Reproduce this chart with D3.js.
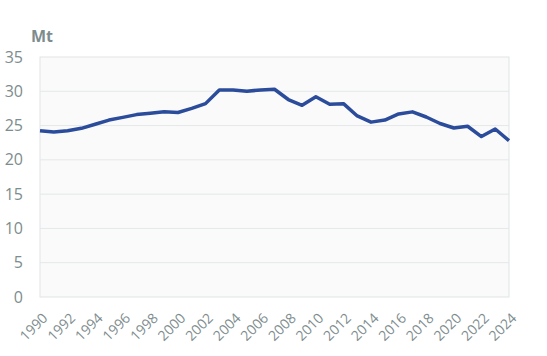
<!DOCTYPE html>
<html><head><meta charset="utf-8">
<script src="https://cdn.jsdelivr.net/npm/d3@7"></script>
<style>body{margin:0;background:#fff;}svg{display:block;font-family:"Open Sans",sans-serif;}</style>
</head><body><svg id="c" width="547" height="356"></svg>
<script>
const years = d3.range(1990, 2025);
const values = [24.25,24.06,24.25,24.6,25.2,25.8,26.2,26.6,26.8,27.0,26.9,27.5,28.2,30.2,30.2,30.0,30.2,30.3,28.8,27.95,29.2,28.1,28.2,26.4,25.5,25.8,26.7,27.0,26.25,25.3,24.65,24.9,23.4,24.5,22.8];
const yTicks = [0,5,10,15,20,25,30,35];
const xTicks = d3.range(1990, 2025, 2);
const unit = "Mt";

const svg = d3.select("#c");
const m = {l:40, r:509, t:57, b:297};
const x = d3.scaleLinear().domain([1990,2024]).range([m.l, m.r]);
const y = d3.scaleLinear().domain([0,35]).range([m.b, m.t]);
const txt = "#7d8c8e";

svg.append("rect").attr("x",m.l).attr("y",m.t).attr("width",m.r-m.l).attr("height",m.b-m.t)
  .attr("fill","#fafafb").attr("stroke","#dfe4e5").attr("stroke-width",1);

svg.append("g").selectAll("line").data(yTicks.slice(1,-1)).join("line")
  .attr("x1",m.l).attr("x2",m.r).attr("y1",d=>y(d)).attr("y2",d=>y(d))
  .attr("stroke","#e4e8e8").attr("stroke-width",1);

const ya = svg.append("g").attr("transform",`translate(${m.l},0)`)
  .call(d3.axisLeft(y).tickValues(yTicks).tickSize(0).tickPadding(17));
ya.select(".domain").remove();
ya.selectAll("text").attr("fill",txt).style("font-size","16px").style("font-family","'Open Sans',sans-serif");

const xa = svg.append("g").attr("transform",`translate(0,${m.b})`)
  .call(d3.axisBottom(x).tickValues(xTicks).tickFormat(d3.format("d")).tickSize(0));
xa.select(".domain").remove();
xa.selectAll("text").attr("fill",txt).style("font-size","14px").style("font-family","'Open Sans',sans-serif")
  .attr("text-anchor","end").attr("dy",null).attr("y",null)
  .attr("transform","translate(8,22) rotate(-45)");

svg.append("text").attr("x",31).attr("y",42).text(unit)
  .attr("fill",txt).style("font-size","16px").style("font-weight","bold");

svg.append("path").datum(values)
  .attr("d", d3.line().x((d,i)=>x(years[i])).y(d=>y(d)))
  .attr("fill","none").attr("stroke","#2a4c9a").attr("stroke-width",3.5).attr("stroke-linejoin","round");
</script></body></html>
